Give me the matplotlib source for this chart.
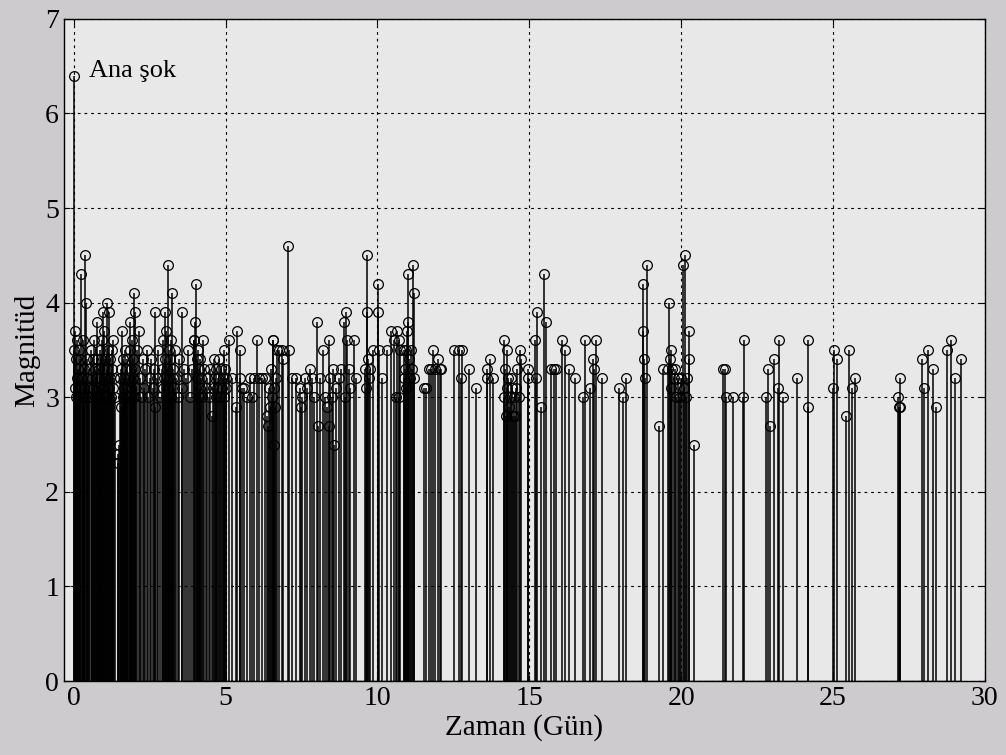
from matplotlib import pyplot as plt
import numpy as np

plt.rcParams['font.family'] = ['Liberation Serif', 'DejaVu Serif']

# zaman (gün) ve magnitüd değerleri
t_a = [0.00, 0.02, 0.03, 0.05, 0.06, 0.08, 0.10, 0.12, 0.14, 0.16, 0.18, 0.20, 0.22, 0.25, 0.27,
       0.29, 0.31, 0.33, 0.35, 0.38, 0.41, 0.43, 0.45, 0.47, 0.49, 0.51, 0.57, 0.59, 0.61, 0.63,
       0.65, 0.67, 0.69, 0.71, 0.73, 0.76, 0.78, 0.80, 0.82, 0.84, 0.86, 0.88, 0.90, 0.92, 0.94,
       0.96, 0.98, 1.00, 1.02, 1.04, 1.06, 1.09, 1.11, 1.13, 1.15, 1.17, 1.19, 1.21, 1.23, 1.25,
       1.27, 1.29, 1.31, 1.33, 1.35, 1.45, 1.47, 1.50, 1.52, 1.55, 1.57, 1.59, 1.61, 1.63, 1.65,
       1.67, 1.69, 1.71, 1.73, 1.75, 1.77, 1.80, 1.82, 1.84, 1.86, 1.88, 1.90, 1.92, 1.94, 1.96,
       1.98, 2.00, 2.01, 2.03, 2.05]
m_a = [6.4, 3.5, 3.1, 3.7, 3.4, 3.0, 3.6, 3.2, 3.3, 3.0, 3.5, 3.1, 3.4, 4.3, 3.2,
       3.0, 3.6, 3.3, 3.1, 4.5, 4.0, 3.2, 3.4, 3.0, 3.3, 3.1, 3.5, 3.2, 3.0, 3.4,
       3.1, 3.6, 3.3, 3.0, 3.2, 3.8, 3.4, 3.1, 3.3, 3.0, 3.5, 3.2, 3.4, 3.1, 3.6,
       3.3, 3.9, 3.7, 3.2, 3.4, 3.0, 4.0, 3.3, 3.5, 3.1, 3.9, 3.4, 3.2, 3.0, 3.3,
       3.5, 3.1, 3.6, 3.2, 3.0, 2.3, 2.4, 2.5, 3.2, 2.9, 3.3, 3.7, 3.0, 3.4, 3.1,
       3.2, 3.5, 3.0, 3.3, 3.1, 3.4, 3.2, 3.0, 3.5, 3.8, 3.3, 3.1, 3.6, 3.2, 3.4,
       3.0, 4.1, 3.9, 3.3, 3.1]

t_b = [2.10, 2.14, 2.18, 2.22, 2.27, 2.31, 2.36, 2.40, 2.45, 2.50, 2.55, 2.60, 2.64, 2.68, 2.69,
       2.74, 2.79, 2.84, 2.90, 2.93, 2.95, 2.97, 2.99, 3.01, 3.03, 3.05, 3.07, 3.09, 3.11, 3.13,
       3.15, 3.17, 3.19, 3.21, 3.24, 3.26, 3.28, 3.30, 3.32, 3.38, 3.43, 3.48, 3.55, 3.58, 3.64,
       3.70, 3.76, 3.82, 3.88, 3.95, 3.97, 4.00, 4.03, 4.05, 4.07, 4.09, 4.11, 4.13, 4.15, 4.17,
       4.19, 4.21, 4.25, 4.30, 4.35, 4.40, 4.45, 4.50, 4.55, 4.58, 4.61, 4.64, 4.67, 4.70, 4.73,
       4.76, 4.79, 4.82, 4.85, 4.88, 4.91, 4.94, 4.96, 4.98, 5.00, 5.02]
m_b = [3.5, 3.7, 3.2, 3.0, 3.4, 3.1, 3.3, 3.5, 3.0, 3.2, 3.4, 3.1, 3.3, 3.9, 2.9,
       3.2, 3.5, 3.0, 3.3, 3.1, 3.6, 3.2, 3.4, 3.9, 3.0, 3.7, 3.3, 4.4, 3.1, 3.5,
       3.2, 3.4, 3.0, 3.6, 4.1, 3.2, 3.3, 3.1, 3.5, 3.2, 3.0, 3.4, 3.9, 3.1, 3.3,
       3.2, 3.5, 3.0, 3.3, 3.6, 3.6, 3.8, 4.2, 3.4, 3.2, 3.5, 3.0, 3.3, 3.1, 3.4,
       3.2, 3.0, 3.6, 3.3, 3.1, 3.2, 3.0, 3.3, 2.8, 3.1, 3.4, 3.2, 3.0, 3.3, 3.1,
       3.2, 3.4, 3.0, 3.3, 3.1, 3.2, 3.0, 3.5, 3.3, 3.1, 3.2]

t_c = [5.11, 5.20, 5.33, 5.39, 5.46, 5.47, 5.55, 5.62, 5.70, 5.80, 5.88, 5.95, 6.03, 6.10, 6.20,
       6.30, 6.38, 6.40, 6.43, 6.46, 6.49, 6.52, 6.55, 6.57, 6.58, 6.60, 6.63, 6.66, 6.68, 6.75,
       6.85, 6.90, 7.07, 7.09, 7.20, 7.33, 7.45, 7.50, 7.52, 7.60, 7.68, 7.77, 7.85, 7.92, 8.01,
       8.04, 8.10, 8.20, 8.28, 8.35, 8.39, 8.42, 8.45, 8.50, 8.55, 8.58, 8.65, 8.72, 8.80, 8.90,
       8.93, 8.96, 9.00, 9.05, 9.10, 9.22, 9.31]
m_c = [3.6, 3.2, 2.9, 3.7, 3.5, 3.2, 3.1, 3.1, 3.0, 3.2, 3.0, 3.2, 3.6, 3.2, 3.2,
       3.2, 2.8, 2.7, 3.1, 2.9, 3.3, 3.0, 3.6, 3.6, 2.5, 3.1, 2.9, 3.2, 3.5, 3.5,
       3.5, 3.4, 4.6, 3.5, 3.2, 3.2, 3.1, 2.9, 3.0, 3.2, 3.1, 3.3, 3.2, 3.0, 3.8,
       2.7, 3.2, 3.5, 3.0, 2.9, 3.6, 2.7, 3.2, 3.0, 3.3, 2.5, 3.1, 3.2, 3.3, 3.8,
       3.0, 3.9, 3.6, 3.3, 3.1, 3.6, 3.2]

t_d = [9.60, 9.64, 9.66, 9.67, 9.69, 9.72, 9.75, 9.85, 10.01, 10.02, 10.05, 10.15, 10.30, 10.46, 10.56,
       10.60, 10.65, 10.70, 10.72, 10.75, 10.86, 10.88, 10.90, 10.93, 10.95, 10.98, 11.00, 11.02, 11.05, 11.08,
       11.10, 11.13, 11.17, 11.19, 11.22, 11.52, 11.60, 11.70, 11.78, 11.84, 11.90, 12.00, 12.05, 12.10, 12.52,
       12.70, 12.75, 12.80, 13.02, 13.26, 13.60, 13.62, 13.72, 13.80]
m_d = [3.3, 3.1, 4.5, 3.9, 3.4, 3.2, 3.3, 3.5, 4.2, 3.9, 3.5, 3.2, 3.5, 3.7, 3.6,
       3.0, 3.7, 3.6, 3.0, 3.5, 3.5, 3.2, 3.3, 3.5, 3.1, 3.7, 4.3, 3.8, 3.4, 3.2,
       3.5, 3.3, 4.4, 3.2, 4.1, 3.1, 3.1, 3.3, 3.3, 3.5, 3.3, 3.4, 3.3, 3.3, 3.5,
       3.5, 3.2, 3.5, 3.3, 3.1, 3.3, 3.2, 3.4, 3.2]

t_e = [14.16, 14.18, 14.20, 14.22, 14.25, 14.28, 14.30, 14.33, 14.36, 14.40, 14.43, 14.46, 14.50, 14.53, 14.56,
       14.60, 14.65, 14.70, 14.72, 14.95, 14.97, 15.19, 15.22, 15.27, 15.40, 15.50, 15.56, 15.70, 15.82, 15.87,
       16.08, 16.16, 16.30, 16.50, 16.78, 16.83, 17.00, 17.10, 17.12, 17.19, 17.38, 17.95, 18.10, 18.18, 18.74,
       18.76, 18.78, 18.80, 18.87, 19.28, 19.40]
m_e = [3.6, 3.0, 3.3, 2.8, 3.1, 3.5, 3.2, 2.9, 3.0, 3.2, 3.1, 2.8, 3.0, 2.8, 3.1,
       3.3, 3.0, 3.5, 3.4, 3.3, 3.2, 3.6, 3.2, 3.9, 2.9, 4.3, 3.8, 3.3, 3.3, 3.3,
       3.6, 3.5, 3.3, 3.2, 3.0, 3.6, 3.1, 3.4, 3.3, 3.6, 3.2, 3.1, 3.0, 3.2, 4.2,
       3.7, 3.4, 3.2, 4.4, 2.7, 3.3]

t_f = [19.56, 19.60, 19.62, 19.65, 19.68, 19.71, 19.75, 19.80, 19.84, 19.88, 19.92, 19.96, 20.00, 20.05, 20.08,
       20.12, 20.15, 20.18, 20.25, 20.26, 20.43, 21.37, 21.44, 21.47, 21.72, 22.03, 22.08, 22.80, 22.87, 22.93,
       23.07, 23.18, 23.21, 23.35, 23.81, 24.17, 24.18, 25.00, 25.04, 25.12, 25.42, 25.54, 25.62, 25.73, 27.15,
       27.17, 27.19, 27.20, 27.93, 27.99, 28.14, 28.30, 28.39, 28.76, 28.87, 29.00, 29.22]
m_f = [3.3, 4.0, 3.4, 3.1, 3.5, 3.3, 3.2, 3.3, 3.0, 3.2, 3.1, 3.0, 3.2, 4.4, 3.1,
       4.5, 3.0, 3.2, 3.7, 3.4, 2.5, 3.3, 3.3, 3.0, 3.0, 3.0, 3.6, 3.0, 3.3, 2.7,
       3.4, 3.1, 3.6, 3.0, 3.2, 3.6, 2.9, 3.1, 3.5, 3.4, 2.8, 3.5, 3.1, 3.2, 3.0,
       2.9, 3.2, 2.9, 3.4, 3.1, 3.5, 3.3, 2.9, 3.5, 3.6, 3.2, 3.4]

zaman = np.array(t_a + t_b + t_c + t_d + t_e + t_f)
mag = np.array(m_a + m_b + m_c + m_d + m_e + m_f)

fig = plt.figure(figsize=(10.06, 7.55), dpi=100, facecolor='#cdcbce')
ax = fig.add_axes([0.0636, 0.098, 0.9154, 0.877], facecolor='#e8e8e8')

markerline, stemlines, baseline = ax.stem(zaman, mag, linefmt='k-', markerfmt='ko', basefmt='k-')
plt.setp(stemlines, linewidth=1.1)
plt.setp(markerline, markerfacecolor='none', markeredgecolor='k', markersize=7, markeredgewidth=0.9)
plt.setp(baseline, linewidth=1)

ax.text(0.5, 6.39, 'Ana şok', fontsize=19)

ax.set_xlim(-0.32, 30)
ax.set_ylim(0, 7)
ax.set_xticks(np.arange(0, 31, 5))
ax.set_yticks(np.arange(0, 8, 1))
ax.grid(True, color='k', linestyle=(0, (2.5, 3.5)), linewidth=0.8)
ax.set_axisbelow(True)
ax.tick_params(direction='in', top=True, right=True, labelsize=20, length=4)
ax.set_xlabel('Zaman (Gün)', fontsize=21, labelpad=2)
ax.set_ylabel('Magnitüd', fontsize=21, labelpad=4)
for s in ax.spines.values():
    s.set_linewidth(1)

plt.savefig('out.png', dpi=100, facecolor=fig.get_facecolor())
